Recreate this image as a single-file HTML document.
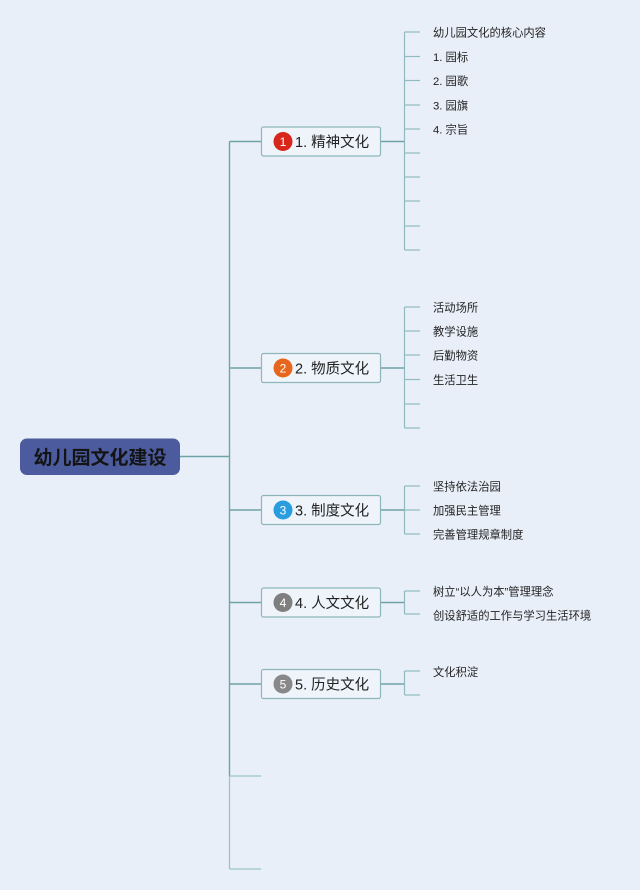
<!DOCTYPE html>
<html><head><meta charset="utf-8">
<style>
html,body{margin:0;padding:0;background:#e9eff9;}
svg{display:block;}
text{font-family:"Liberation Sans","Noto Sans CJK SC",sans-serif;}
</style></head>
<body>
<svg width="640" height="890" viewBox="0 0 640 890" xmlns="http://www.w3.org/2000/svg">
<rect width="640" height="890" fill="#e9eff9"/>
<!-- trunk -->
<g stroke="#6fa3a5" stroke-width="1.4" fill="none">
<line x1="180" y1="456.5" x2="229.5" y2="456.5"/>
<line x1="229.5" y1="141.5" x2="229.5" y2="776"/>
<line x1="229.5" y1="141.5" x2="261" y2="141.5"/>
<line x1="229.5" y1="368" x2="261" y2="368"/>
<line x1="229.5" y1="510" x2="261" y2="510"/>
<line x1="229.5" y1="602.5" x2="261" y2="602.5"/>
<line x1="229.5" y1="684" x2="261" y2="684"/>
</g>
<g stroke="#9cc3c8" stroke-width="1.3" fill="none">
<line x1="229.5" y1="776" x2="229.5" y2="869"/>
<line x1="229.5" y1="776" x2="261" y2="776"/>
<line x1="229.5" y1="869" x2="261" y2="869"/>
</g>
<!-- node connectors -->
<g stroke="#6fa3a5" stroke-width="1.4" fill="none">
<line x1="381" y1="141.5" x2="404.5" y2="141.5"/>
<line x1="381" y1="368" x2="404.5" y2="368"/>
<line x1="381" y1="510" x2="404.5" y2="510"/>
<line x1="381" y1="602.5" x2="404.5" y2="602.5"/>
<line x1="381" y1="684" x2="404.5" y2="684"/>
</g>
<!-- child lines -->
<g stroke="#8fbbc0" stroke-width="1.2" fill="none">
<line x1="404.5" y1="32" x2="404.5" y2="250"/>
<line x1="404.5" y1="32" x2="420" y2="32"/>
<line x1="404.5" y1="56.5" x2="420" y2="56.5"/>
<line x1="404.5" y1="80.5" x2="420" y2="80.5"/>
<line x1="404.5" y1="105" x2="420" y2="105"/>
<line x1="404.5" y1="129" x2="420" y2="129"/>
<line x1="404.5" y1="153" x2="420" y2="153"/>
<line x1="404.5" y1="177" x2="420" y2="177"/>
<line x1="404.5" y1="201" x2="420" y2="201"/>
<line x1="404.5" y1="226" x2="420" y2="226"/>
<line x1="404.5" y1="250" x2="420" y2="250"/>

<line x1="404.5" y1="307" x2="404.5" y2="428"/>
<line x1="404.5" y1="307" x2="420" y2="307"/>
<line x1="404.5" y1="331" x2="420" y2="331"/>
<line x1="404.5" y1="355" x2="420" y2="355"/>
<line x1="404.5" y1="379.5" x2="420" y2="379.5"/>
<line x1="404.5" y1="404" x2="420" y2="404"/>
<line x1="404.5" y1="428" x2="420" y2="428"/>

<line x1="404.5" y1="486" x2="404.5" y2="534"/>
<line x1="404.5" y1="486" x2="420" y2="486"/>
<line x1="404.5" y1="510" x2="420" y2="510"/>
<line x1="404.5" y1="534" x2="420" y2="534"/>

<line x1="404.5" y1="591" x2="404.5" y2="614"/>
<line x1="404.5" y1="591" x2="420" y2="591"/>
<line x1="404.5" y1="614" x2="420" y2="614"/>

<line x1="404.5" y1="671" x2="404.5" y2="695"/>
<line x1="404.5" y1="671" x2="420" y2="671"/>
<line x1="404.5" y1="695" x2="420" y2="695"/>
</g>
<!-- central node -->
<rect x="20" y="438.5" width="160" height="36.5" rx="7" fill="#4b5b9d"/>
<text x="100" y="464" text-anchor="middle" font-size="19" font-weight="bold" fill="#141414">幼儿园文化建设</text>
<!-- main nodes -->
<g fill="#eff4fb" stroke="#8db6ba" stroke-width="1.2">
<rect x="261.5" y="127" width="119" height="29" rx="2"/>
<rect x="261.5" y="353.5" width="119" height="29" rx="2"/>
<rect x="261.5" y="495.5" width="119" height="29" rx="2"/>
<rect x="261.5" y="588" width="119" height="29" rx="2"/>
<rect x="261.5" y="669.5" width="119" height="29" rx="2"/>
</g>
<circle cx="283" cy="141.5" r="9.5" fill="#d8261b"/>
<circle cx="283" cy="368" r="9.5" fill="#e5661c"/>
<circle cx="283" cy="510" r="9.5" fill="#2a9ddf"/>
<circle cx="283" cy="602.5" r="9.5" fill="#7f7f7f"/>
<circle cx="283" cy="684" r="9.5" fill="#888888"/>
<g font-size="12" fill="#ffffff" text-anchor="middle">
<text x="283" y="146">1</text>
<text x="283" y="372.5">2</text>
<text x="283" y="514.5">3</text>
<text x="283" y="607">4</text>
<text x="283" y="688.5">5</text>
</g>
<g font-size="14.5" fill="#222">
<text x="295" y="147">1. 精神文化</text>
<text x="295" y="373.5">2. 物质文化</text>
<text x="295" y="515.5">3. 制度文化</text>
<text x="295" y="608">4. 人文文化</text>
<text x="295" y="689.5">5. 历史文化</text>
</g>
<!-- child texts -->
<g font-size="11.3" fill="#222">
<text x="433" y="36.5">幼儿园文化的核心内容</text>
<text x="433" y="61">1. 园标</text>
<text x="433" y="85">2. 园歌</text>
<text x="433" y="109.5">3. 园旗</text>
<text x="433" y="133.5">4. 宗旨</text>

<text x="433" y="311.5">活动场所</text>
<text x="433" y="335.5">教学设施</text>
<text x="433" y="359.5">后勤物资</text>
<text x="433" y="384">生活卫生</text>

<text x="433" y="490.5">坚持依法治园</text>
<text x="433" y="514.5">加强民主管理</text>
<text x="433" y="538.5">完善管理规章制度</text>

<text x="433" y="595.5">树立“以人为本”管理理念</text>
<text x="433" y="619.5">创设舒适的工作与学习生活环境</text>

<text x="433" y="676">文化积淀</text>
</g>
</svg>
</body></html>
